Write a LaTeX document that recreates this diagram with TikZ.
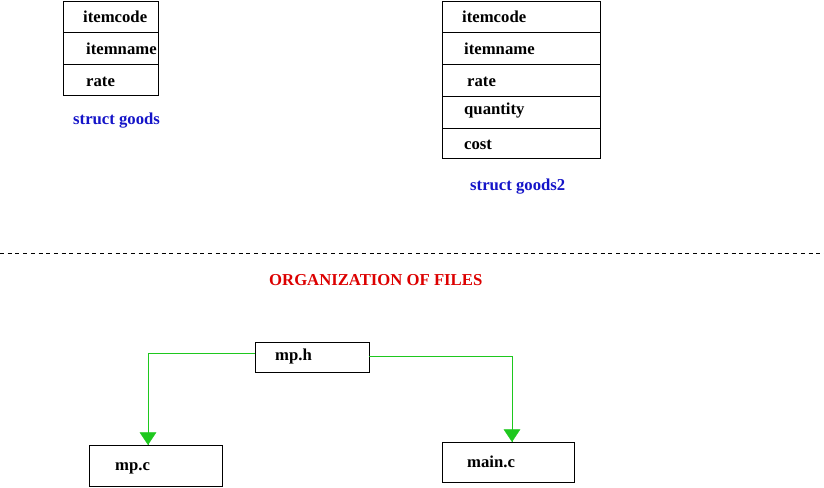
\documentclass[tikz,border=0pt]{standalone}
\usepackage{fontspec}
\setmainfont{Liberation Serif}
\definecolor{lblue}{RGB}{20,20,200}
\definecolor{lred}{RGB}{220,0,0}
\definecolor{lgreen}{RGB}{30,200,30}
\begin{document}
\begin{tikzpicture}[x=1pt,y=-1pt,
  txt/.style={anchor=base west,inner sep=0pt,font=\fontsize{16.7}{19}\selectfont\bfseries},
  cell/.style={draw=black,line width=0.8pt},
  filebox/.style={draw=black,line width=0.8pt,inner sep=0pt},
  link/.style={draw=lgreen,line width=0.8pt},
  tip/.style={fill=lgreen,draw=lgreen}]
\useasboundingbox (0,0) rectangle (824,487);
% struct goods
\draw[cell] (63,1) rectangle (158,95);
\draw[cell] (63,32) -- (158,32);
\draw[cell] (63,64) -- (158,64);
\node[txt] (a1) at (83,23) {itemcode};
\node[txt] (a2) at (86,55) {itemname};
\node[txt] (a3) at (86,86) {rate};
\node[txt,text=lblue] (la) at (73,124) {struct goods};
% struct goods2
\draw[cell] (442,1) rectangle (600,158);
\draw[cell] (442,32) -- (600,32);
\draw[cell] (442,64) -- (600,64);
\draw[cell] (442,96) -- (600,96);
\draw[cell] (442,128) -- (600,128);
\node[txt] (b1) at (462,23) {itemcode};
\node[txt] (b2) at (464,55) {itemname};
\node[txt] (b3) at (467,86) {rate};
\node[txt] (b4) at (464,114) {quantity};
\node[txt] (b5) at (464,149) {cost};
\node[txt,text=lblue] (lb) at (470,190) {struct goods2};
% separator
\draw[line width=0.8pt,dash pattern=on 4pt off 3.7pt] (0,253) -- (824,253);
\node[txt,text=lred] (title) at (269,285) {ORGANIZATION OF FILES};
% files
\node[filebox,minimum width=114pt,minimum height=30pt] (mph) at (312,357) {};
\node[txt] (mphl) at (275,360) {mp.h};
\node[filebox,minimum width=133pt,minimum height=41pt] (mpc) at (155.5,465.5) {};
\node[txt] (mpcl) at (115,470) {mp.c};
\node[filebox,minimum width=132pt,minimum height=40pt] (mainc) at (508,462) {};
\node[txt] (maincl) at (467,467) {main.c};
\coordinate (l1) at (148,353);
\coordinate (r1) at (512,356);
\draw[link] (mph.west |- l1) -- (l1) -- (l1 |- mpc.north);
\draw[link] (mph.east |- r1) -- (r1) -- (r1 |- mainc.north);
\fill[tip] (l1 |- mpc.north) -- ++(-8,-12) -- ++(16,0) -- cycle;
\fill[tip] (r1 |- mainc.north) -- ++(-8,-12) -- ++(16,0) -- cycle;
\end{tikzpicture}
\end{document}
